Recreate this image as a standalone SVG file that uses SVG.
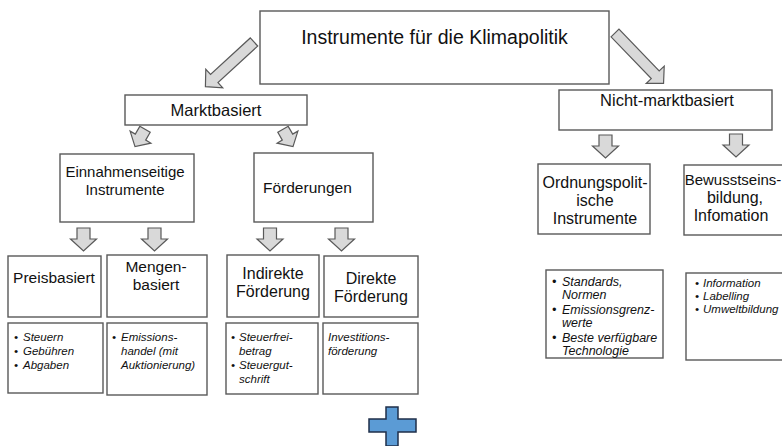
<svg xmlns="http://www.w3.org/2000/svg" width="782" height="446" viewBox="0 0 782 446">
<style>
.box{fill:#fff;stroke:#595959;stroke-width:1.4}
.arr{fill:#d9d9d9;stroke:#595959;stroke-width:1.2;stroke-linejoin:miter}
text{font-family:"Liberation Sans",Arial,sans-serif;fill:#111}
.t{text-anchor:middle}
.it{font-style:italic;font-size:11.5px}
.it2{font-style:italic;font-size:12.5px}
</style>
<defs>
<path id="down" d="M-6.5,0 H6.5 V11 H13 L0,23 L-13,11 H-6.5 Z"/>
<path id="sm" d="M-6,0 H6 V9 H12 L0,20 L-12,9 H-6 Z"/>
</defs>
<rect width="782" height="446" fill="#fff"/>

<g id="connectors">
<path class="arr" d="M-5.5,0 H5.5 V54 H12.5 L0,66 L-12.5,54 H-5.5 Z" transform="translate(254,42) rotate(47.4)"/>
<path class="arr" d="M-5.5,0 H5.5 V58 H12.5 L0,70 L-12.5,58 H-5.5 Z" transform="translate(615,33) rotate(-43.9)"/>
<use href="#sm" class="arr" transform="translate(140,138) rotate(30) translate(0,-10)"/>
<use href="#sm" class="arr" transform="translate(288,138) rotate(-30) translate(0,-10)"/>
<use href="#down" class="arr" transform="translate(83.5,228)"/>
<use href="#down" class="arr" transform="translate(154.5,228)"/>
<use href="#down" class="arr" transform="translate(270,228)"/>
<use href="#down" class="arr" transform="translate(341.5,228)"/>
<use href="#down" class="arr" transform="translate(605.5,135)"/>
<use href="#down" class="arr" transform="translate(736,134)"/>
</g>

<g id="root">
<rect class="box" x="260" y="11" width="349" height="73"/>
<text x="434.5" y="44" class="t" font-size="19.5">Instrumente für die Klimapolitik</text>
</g>

<g id="marktbasiert">
<rect class="box" x="125" y="95" width="182" height="30"/>
<text x="216" y="116" class="t" font-size="16.5">Marktbasiert</text>
</g>

<g id="nichtmarktbasiert">
<rect class="box" x="559" y="90" width="213" height="40"/>
<text x="667" y="106" class="t" font-size="16.5">Nicht-marktbasiert</text>
</g>

<g id="einnahmenseitige">
<rect class="box" x="60" y="154" width="134" height="68"/>
<text x="125" y="177" class="t" font-size="15">Einnahmenseitige</text>
<text x="125" y="195" class="t" font-size="15">Instrumente</text>
</g>

<g id="foerderungen">
<rect class="box" x="254" y="153" width="119" height="69"/>
<text x="263" y="193" font-size="15.5">Förderungen</text>
</g>

<g id="preisbasiert">
<rect class="box" x="8" y="256" width="93" height="61"/>
<text x="54" y="283" class="t" font-size="15.5">Preisbasiert</text>
</g>

<g id="mengenbasiert">
<rect class="box" x="107" y="255" width="100" height="62"/>
<text x="156" y="272" class="t" font-size="15.5">Mengen-</text>
<text x="156" y="290" class="t" font-size="15.5">basiert</text>
</g>

<g id="indirekte">
<rect class="box" x="227" y="255" width="92" height="62"/>
<text x="273" y="279" class="t" font-size="16">Indirekte</text>
<text x="273" y="297" class="t" font-size="16">Förderung</text>
</g>

<g id="direkte">
<rect class="box" x="324" y="256" width="94" height="61"/>
<text x="371" y="284" class="t" font-size="16">Direkte</text>
<text x="371" y="302" class="t" font-size="16">Förderung</text>
</g>

<g id="ordnungspolitische">
<rect class="box" x="538" y="164" width="112" height="70"/>
<text x="595" y="188" class="t" font-size="16">Ordnungspolit-</text>
<text x="595" y="206" class="t" font-size="16">ische</text>
<text x="595" y="224" class="t" font-size="16">Instrumente</text>
</g>

<g id="bewusstseinsbildung">
<rect class="box" x="684" y="165" width="110" height="70"/>
<text x="733" y="185" class="t" font-size="15">Bewusstseins-</text>
<text x="735" y="203" class="t" font-size="16">bildung,</text>
<text x="731" y="221" class="t" font-size="16">Infomation</text>
</g>

<g id="steuern-list">
<rect class="box" x="8" y="323" width="95" height="70"/>
<text class="it" x="14" y="341">•</text><text class="it" x="23" y="341">Steuern</text>
<text class="it" x="14" y="355">•</text><text class="it" x="23" y="355">Gebühren</text>
<text class="it" x="14" y="369">•</text><text class="it" x="23" y="369">Abgaben</text>
</g>

<g id="emissions-list">
<rect class="box" x="107" y="323" width="100" height="72"/>
<text class="it" x="112" y="341">•</text><text class="it" x="121" y="341">Emissions-</text>
<text class="it" x="121" y="355">handel (mit</text>
<text class="it" x="121" y="369">Auktionierung)</text>
</g>

<g id="steuerfrei-list">
<rect class="box" x="226" y="323" width="92" height="71"/>
<text class="it" x="231" y="341">•</text><text class="it" x="239" y="341">Steuerfrei-</text>
<text class="it" x="239" y="355">betrag</text>
<text class="it" x="231" y="369">•</text><text class="it" x="239" y="369">Steuergut-</text>
<text class="it" x="239" y="383">schrift</text>
</g>

<g id="investitions-list">
<rect class="box" x="323" y="323" width="95" height="71"/>
<text class="it" x="328" y="341">Investitions-</text>
<text class="it" x="328" y="355">förderung</text>
</g>

<g id="standards-list">
<rect class="box" x="546" y="270" width="117" height="88"/>
<text class="it2" x="552" y="286">•</text><text class="it2" x="562" y="286">Standards,</text>
<text class="it2" x="562" y="299">Normen</text>
<text class="it2" x="552" y="314">•</text><text class="it2" x="562" y="314">Emissionsgrenz-</text>
<text class="it2" x="562" y="327">werte</text>
<text class="it2" x="552" y="342">•</text><text class="it2" x="562" y="342">Beste verfügbare</text>
<text class="it2" x="562" y="355">Technologie</text>
</g>

<g id="information-list">
<rect class="box" x="686" y="273" width="110" height="87"/>
<text class="it" x="695" y="287">•</text><text class="it" x="703" y="287">Information</text>
<text class="it" x="695" y="300">•</text><text class="it" x="703" y="300">Labelling</text>
<text class="it" x="695" y="313">•</text><text class="it" x="703" y="313">Umweltbildung</text>
</g>

<g id="plus">
<path d="M386,407 H398 V419 H416 V432 H398 V446 H386 V432 H369 V419 H386 Z" fill="#5b9bd5" stroke="#1f2f4a" stroke-width="1.5"/>
</g>
</svg>
